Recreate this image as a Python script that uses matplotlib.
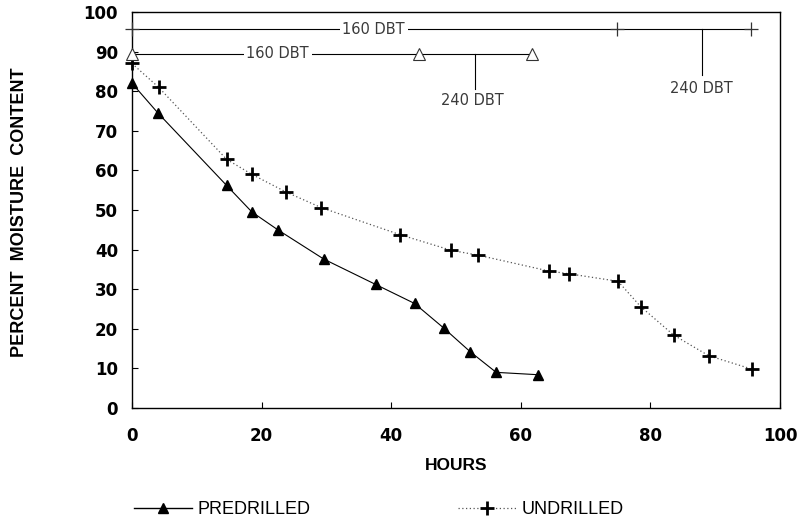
import matplotlib
matplotlib.use("Agg")
import matplotlib.pyplot as plt
from matplotlib.lines import Line2D

# ---- data ----
pre_hours = [0, 4, 14.6, 18.5, 22.5, 29.6, 37.6, 43.6, 48.1, 52.2, 56.2, 62.7]
pre_mc = [82, 74.5, 56.2, 49.5, 45.0, 37.6, 31.2, 26.4, 20.2, 14.2, 9.0, 8.4]

und_hours = [0, 4.1, 14.6, 18.5, 23.7, 29.2, 41.3, 49.3, 53.4, 64.3, 67.4, 75.0, 78.5, 83.6, 89.0, 95.7]
und_mc = [87, 81, 62.8, 59.0, 54.6, 50.6, 43.8, 39.8, 38.6, 34.6, 33.9, 32.0, 25.6, 18.4, 13.2, 9.8]

# schedule annotations (phase boundaries)
und_sched_x = [0, 74.8, 95.5]
und_sched_y = 95.6
pre_sched_x = [0, 44.3, 61.7]
pre_sched_y = 89.5

x_ticks = [0, 20, 40, 60, 80, 100]
y_ticks = [0, 10, 20, 30, 40, 50, 60, 70, 80, 90, 100]

# ---- figure ----
W, H = 805, 522
fig = plt.figure(figsize=(W / 100, H / 100), dpi=100)
ax = fig.add_axes([132 / W, 1 - 408 / H, (780 - 132) / W, (408 - 12) / H])
ax.set_xlim(0, 100)
ax.set_ylim(0, 100)

# series
ax.plot(pre_hours, pre_mc, color="black", lw=0.8, ls="-", marker="^",
        ms=7.5, mfc="black", mec="black", clip_on=False, zorder=3)
ax.plot(und_hours, und_mc, color="#555555", lw=0.9, ls=(0, (1, 2)), marker="+",
        ms=10, mew=2, mfc="black", mec="black", clip_on=False, zorder=3)

# schedule lines
ann_font = dict(family="DejaVu Sans", size=10.5, color="#3a3a3a")
ax.plot([und_sched_x[0], und_sched_x[-1]], [und_sched_y, und_sched_y], color="black", lw=0.8,
        zorder=2)
ax.plot(und_sched_x, [und_sched_y] * 3, ls="none", marker="+", ms=10, mew=0.9,
        mec="#333333", clip_on=False, zorder=3)
ax.text(37.3, und_sched_y, "160 DBT", ha="center", va="center", zorder=4,
        bbox=dict(facecolor="white", edgecolor="none", pad=2), **ann_font)
ax.plot([87.9, 87.9], [und_sched_y, 84.0], color="black", lw=0.8)
ax.text(87.9, 80.6, "240 DBT", ha="center", va="center", **ann_font)

ax.plot([pre_sched_x[0], pre_sched_x[-1]], [pre_sched_y, pre_sched_y], color="black", lw=0.8,
        zorder=2)
ax.plot(pre_sched_x, [pre_sched_y] * 3, ls="none", marker="^", ms=8, mew=0.8,
        mfc="white", mec="#333333", clip_on=False, zorder=3)
ax.text(22.5, pre_sched_y, "160 DBT", ha="center", va="center", zorder=4,
        bbox=dict(facecolor="white", edgecolor="none", pad=2), **ann_font)
ax.plot([53.0, 53.0], [pre_sched_y, 80.6], color="black", lw=0.8)
ax.text(52.6, 77.7, "240 DBT", ha="center", va="center", **ann_font)

# axes styling
for s in ax.spines.values():
    s.set_linewidth(1.0)
    s.set_color("black")
ax.set_xticks(x_ticks)
ax.set_yticks(y_ticks)
ax.set_xticklabels([str(v) for v in x_ticks])
ax.set_yticklabels([str(v) for v in y_ticks])
ax.tick_params(axis="both", direction="in", length=4, width=0.8, color="black")
ax.tick_params(axis="x", pad=14)
ax.tick_params(axis="y", pad=10)
for lab in ax.get_xticklabels() + ax.get_yticklabels():
    lab.set_fontfamily("DejaVu Sans")
    lab.set_fontweight("bold")
    lab.set_fontsize(12)

# axis titles
fig.text(456 / W, 1 - 465 / H, "HOURS", ha="center", va="center",
         family="Liberation Sans", weight="bold", size=12.5)
fig.text(20 / W, 1 - 212 / H, "PERCENT  MOISTURE  CONTENT", ha="center", va="center",
         rotation=90, family="Liberation Sans", weight="bold", size=13)

# legend
h1 = Line2D([], [], color="black", lw=1.0, marker="^", ms=7.5, mfc="black", mec="black")
h2 = Line2D([], [], color="#555555", lw=0.9, ls=(0, (1, 2)), marker="+", ms=10, mew=2,
            mec="black")
fig.legend([h1, h2], ["PREDRILLED", "UNDRILLED"], loc="center left",
           bbox_to_anchor=(134 / W, 1 - 510 / H), ncol=2, frameon=False,
           borderpad=0, borderaxespad=0, handlelength=3.2, handletextpad=0.3,
           columnspacing=8.2, prop=dict(family="Liberation Sans", size=13))

fig.savefig("out.png", dpi=100, facecolor="white")
